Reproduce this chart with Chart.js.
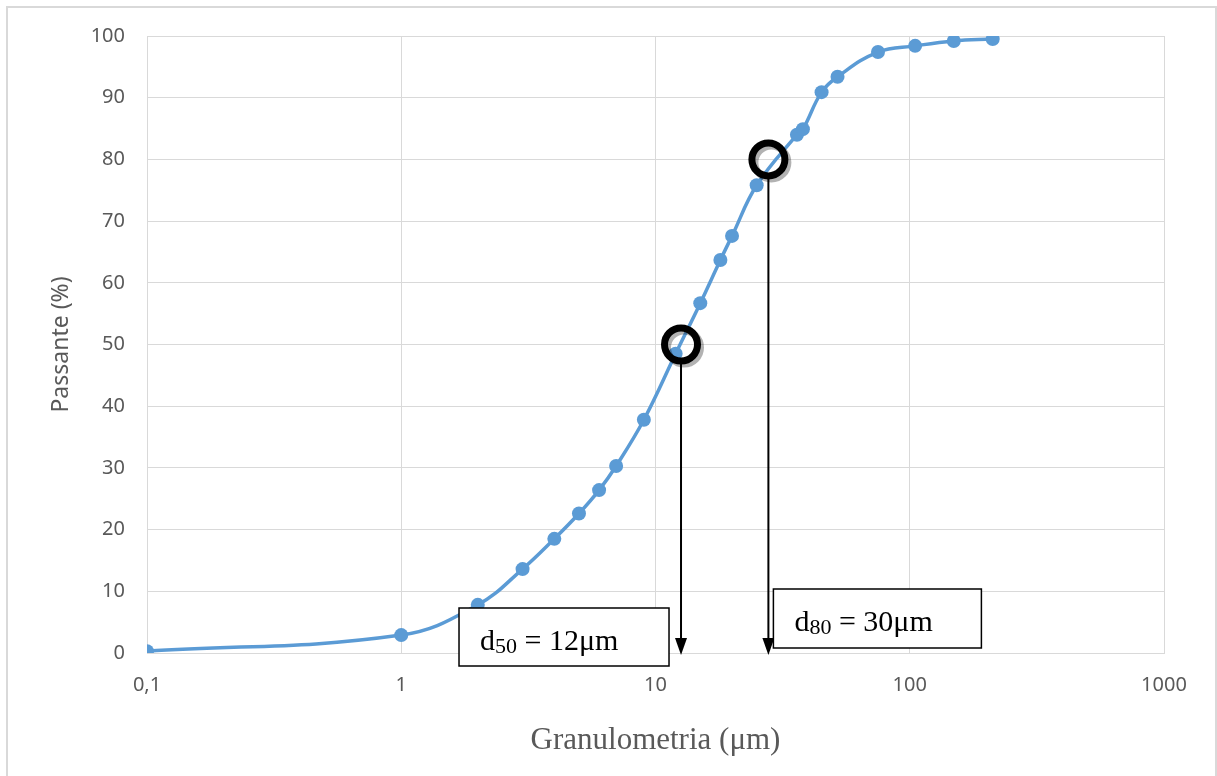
<!DOCTYPE html>
<html lang="pt">
<head>
    <meta charset="UTF-8">
    <title>Granulometria</title>
    <script src="https://cdn.jsdelivr.net/npm/chart.js"></script>
    <style>
        html, body { margin: 0; padding: 0; background: #fff; }
        #wrap { width: 1217px; height: 776px; position: relative; }
    </style>
</head>
<body>
<div id="wrap"><canvas id="grafico"></canvas></div>

<script>
    // Dados
    const granulometria = [0.1, 1, 2, 3, 4, 5, 6, 7, 9, 12, 15, 18, 20, 25, 36, 38, 45, 52, 75, 105, 149, 212];
    const passante = [0.3, 2.9, 7.8, 13.6, 18.5, 22.6, 26.4, 30.3, 37.8, 48.5, 56.7, 63.7, 67.6, 75.8, 84.0, 84.9, 90.9, 93.4, 97.4, 98.4, 99.2, 99.5];
    const ticksX = [0.1, 1, 10, 100, 1000];

    // Marcas d50 / d80
    const marcas = [
        { x: 12.6, y: 50, sub: '50', resto: ' = 12\u03bcm', lado: 'esq' },
        { x: 27.8, y: 80, sub: '80', resto: ' = 30\u03bcm', lado: 'dir' }
    ];

    const cinza = '#595959';
    const grade = '#d9d9d9';

    // moldura externa
    const moldura = {
        id: 'moldura',
        beforeDraw(chart) {
            const c = chart.ctx;
            c.save();
            c.fillStyle = '#fff';
            c.fillRect(0, 0, chart.width, chart.height);
            c.strokeStyle = grade;
            c.lineWidth = 2;
            c.strokeRect(7, 7, chart.width - 8, chart.height + 10);
            c.restore();
        }
    };

    // circulos, setas e caixas de texto
    const anotacoes = {
        id: 'anotacoes',
        afterDatasetsDraw(chart) {
            const c = chart.ctx;
            const sx = chart.scales.x, sy = chart.scales.y;
            const base = sy.getPixelForValue(0);
            marcas.forEach(m => {
                const px = sx.getPixelForValue(m.x);
                const py = sy.getPixelForValue(m.y);
                c.save();
                // seta
                c.strokeStyle = '#000';
                c.lineWidth = 2;
                c.beginPath();
                c.moveTo(px, py + 18);
                c.lineTo(px, base - 12);
                c.stroke();
                c.fillStyle = '#000';
                c.beginPath();
                c.moveTo(px - 6, base - 15);
                c.lineTo(px + 6, base - 15);
                c.lineTo(px, base + 2);
                c.closePath();
                c.fill();
                // circulo com sombra
                c.lineWidth = 7;
                c.strokeStyle = 'rgba(0,0,0,0.3)';
                c.beginPath();
                c.arc(px + 3, py + 3, 16.5, 0, Math.PI * 2);
                c.stroke();
                c.strokeStyle = '#000';
                c.beginPath();
                c.arc(px, py, 16.5, 0, Math.PI * 2);
                c.stroke();
                // caixa
                let bx, by, bw, bh;
                if (m.lado === 'esq') { bw = 210; bh = 58; bx = px - 12 - bw; by = base - 45; }
                else { bw = 208; bh = 59; bx = px + 5; by = base - 64; }
                c.fillStyle = '#fff';
                c.fillRect(bx, by, bw, bh);
                c.lineWidth = 1.5;
                c.strokeStyle = '#000';
                c.strokeRect(bx, by, bw, bh);
                // texto
                c.fillStyle = '#000';
                c.textBaseline = 'alphabetic';
                let tx = bx + 21;
                const ty = by + 42;
                c.font = '30px "Liberation Serif", serif';
                c.fillText('d', tx, ty);
                tx += c.measureText('d').width;
                c.font = '22px "Liberation Serif", serif';
                c.fillText(m.sub, tx, ty + 3);
                tx += c.measureText(m.sub).width;
                c.font = '30px "Liberation Serif", serif';
                c.fillText(m.resto, tx, ty);
                c.restore();
            });
        }
    };

    const ctx = document.getElementById('grafico').getContext('2d');
    new Chart(ctx, {
        type: 'line',
        data: {
            datasets: [{
                data: granulometria.map((g, i) => ({ x: g, y: passante[i] })),
                borderColor: '#5B9BD5',
                backgroundColor: '#5B9BD5',
                borderWidth: 3.5,
                pointRadius: 7,
                pointHoverRadius: 7,
                pointBorderWidth: 0,
                tension: 0.4,
                fill: false
            }]
        },
        options: {
            responsive: true,
            maintainAspectRatio: false,
            animation: false,
            layout: { padding: { left: 0, top: 36, right: 53, bottom: 0 } },
            plugins: {
                legend: { display: false },
                tooltip: { enabled: false }
            },
            scales: {
                x: {
                    type: 'logarithmic',
                    min: 0.1,
                    max: 1000,
                    afterBuildTicks: s => { s.ticks = ticksX.map(v => ({ value: v })); },
                    afterFit: s => { s.height = 123; },
                    grid: { color: grade, lineWidth: 1, drawTicks: false },
                    border: { color: grade },
                    ticks: {
                        color: cinza,
                        padding: 20,
                        maxRotation: 0,
                        font: { family: '"Noto Sans", sans-serif', size: 20 },
                        callback: v => String(v).replace('.', ',')
                    },
                    title: {
                        display: true,
                        text: 'Granulometria (\u03bcm)',
                        color: cinza,
                        font: { family: '"Liberation Serif", serif', size: 31 },
                        padding: { top: 0, bottom: 17 }
                    }
                },
                y: {
                    min: 0,
                    max: 100,
                    afterFit: s => { s.width = 147; },
                    grid: { color: grade, lineWidth: 1, drawTicks: false },
                    border: { color: grade },
                    ticks: {
                        stepSize: 10,
                        color: cinza,
                        padding: 22,
                        font: { family: '"Noto Sans", sans-serif', size: 20 }
                    },
                    title: {
                        display: true,
                        text: 'Passante (%)',
                        color: cinza,
                        font: { family: '"Noto Sans", sans-serif', size: 23 },
                        padding: { top: 48, bottom: 0 }
                    }
                }
            }
        },
        plugins: [moldura, anotacoes]
    });
</script>
</body>
</html>
